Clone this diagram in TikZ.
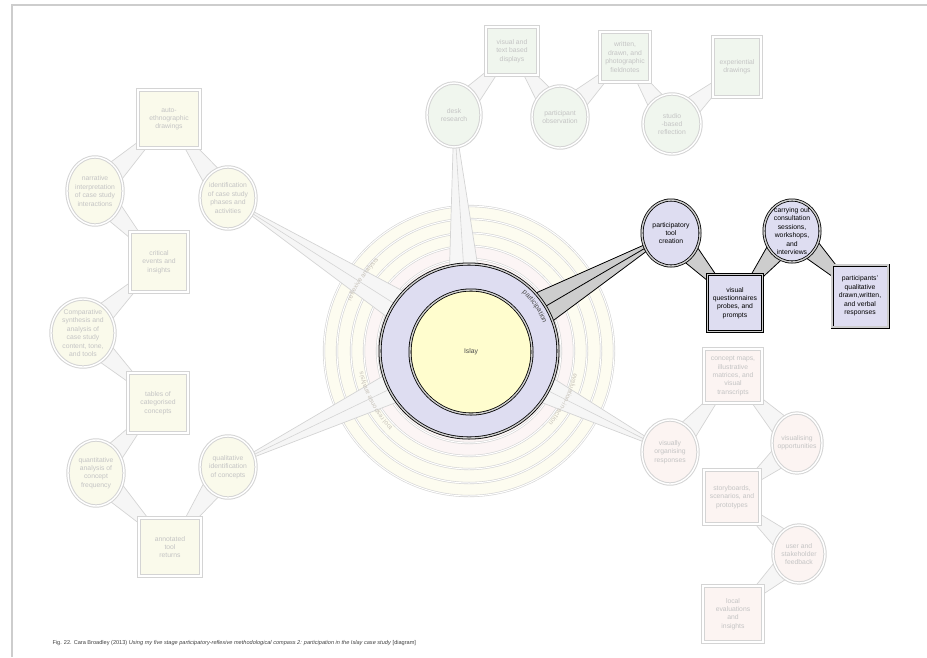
\documentclass[tikz,border=0pt]{standalone}
\usepackage{fontspec}
\setmainfont{Liberation Sans}
\usetikzlibrary{shapes.geometric,calc,decorations.text}
\definecolor{RingLilac}{RGB}{222,221,241}
\definecolor{IslayYellow}{RGB}{255,253,206}
\definecolor{LinkGray}{RGB}{205,205,205}
\definecolor{FaintLine}{RGB}{212,212,212}
\definecolor{FaintText}{RGB}{196,196,196}
\definecolor{FaintLink}{RGB}{246,246,246}
\definecolor{TopGreen}{RGB}{240,246,238}
\definecolor{LeftCream}{RGB}{250,250,235}
\definecolor{LowPink}{RGB}{252,244,242}
\definecolor{RingCream}{RGB}{253,252,240}
\definecolor{RingPink}{RGB}{252,245,245}
\definecolor{RingText}{RGB}{200,195,186}
\definecolor{FrameGray}{RGB}{205,205,205}
\newcommand{\nodefont}{\fontsize{6.8}{8.4}\selectfont}
\pgfdeclarelayer{rings}
\pgfdeclarelayer{links}
\pgfsetlayers{rings,links,main}

\begin{document}
\begin{tikzpicture}[x=1pt,y=-1pt,
    fshape/.style={draw=FaintLine,line width=1pt,double=white,double distance=1.4pt},
    fbox/.style 2 args={fshape,rectangle,minimum width=#1,minimum height=#2,inner sep=0pt,
      font=\nodefont,text=FaintText,align=center},
    fblob/.style n args={3}{fshape,ellipse,minimum width=#1,minimum height=#2,
      label={[font=\nodefont,text=FaintText,align=center]center:{#3}}},
    hshape/.style={draw=black,line width=0.8pt,double=LinkGray,double distance=1.4pt,fill=RingLilac},
    hbox/.style 2 args={hshape,rectangle,minimum width=#1,minimum height=#2,inner sep=0pt,
      font=\nodefont,align=center},
    hblob/.style n args={3}{hshape,ellipse,minimum width=#1,minimum height=#2,
      label={[font=\nodefont,align=center]center:{#3}}},
    fwedge/.style={draw=FaintLine,fill=FaintLink,line width=0.7pt,line join=round},
    hwedge/.style={draw=black,fill=LinkGray,line width=0.8pt,line join=round},
    ringring/.style={draw=FaintLine,line width=0.6pt,double=white,double distance=1pt},
    ringlabel/.style={decorate,decoration={text along path,text align=center,
      text={|\fontsize{6.5}{7}\selectfont\color{RingText}|#1}}}]
  \useasboundingbox (0,0) rectangle (927,657);
  \draw[FrameGray,line width=2.5pt] (12,657) -- (12,5) -- (927,5);

  \node[hshape,ellipse,minimum width=178pt,minimum height=174pt] (hub) at (469,351) {};
  \node[hshape,ellipse,fill=IslayYellow,minimum width=122pt,minimum height=124pt,
    font=\nodefont,text=black!70] (islay) at (471,352) {Islay};

  \node[fblob={54pt}{64pt}{desk\\research},fill=TopGreen] (desk) at (454,115) {};
  \node[fbox={52pt}{48pt},fill=TopGreen] (vtd) at (512,51) {visual and\\text based\\displays};
  \node[fblob={56pt}{62pt}{participant\\observation},fill=TopGreen] (pobs) at (560,117) {};
  \node[fbox={50pt}{50pt},fill=TopGreen] (wdp) at (625,57) {written,\\drawn, and\\photographic\\fieldnotes};
  \node[fblob={58pt}{60pt}{studio\\-based\\reflection},fill=TopGreen] (sbr) at (672,124) {};
  \node[fbox={48pt}{60pt},fill=TopGreen] (expd) at (737,67) {experiential\\drawings};

  \node[fbox={62pt}{58pt},fill=LeftCream] (aed) at (169,119) {auto-\\ethnographic\\drawings};
  \node[fblob={56pt}{62pt}{identification\\of case study\\phases and\\activities},fill=LeftCream] (idcs) at (228,198) {};
  \node[fblob={56pt}{68pt}{narrative\\interpretation\\of case study\\interactions},fill=LeftCream] (nics) at (95,191) {};
  \node[fbox={58pt}{60pt},fill=LeftCream] (crit) at (159,262) {critical\\events and\\insights};
  \node[fblob={64pt}{68pt}{Comparative\\synthesis and\\analysis of\\case study\\content, tone,\\and tools},fill=LeftCream] (comp) at (83,333) {};
  \node[fbox={60pt}{60pt},fill=LeftCream] (tcc) at (158,403) {tables of\\categorised\\concepts};
  \node[fblob={56pt}{66pt}{quantitative\\analysis of\\concept\\frequency},fill=LeftCream] (qacf) at (96,473) {};
  \node[fbox={62pt}{58pt},fill=LeftCream] (atr) at (170,547) {annotated\\tool\\returns};
  \node[fblob={56pt}{62pt}{qualitative\\identification\\of concepts},fill=LeftCream] (qic) at (228,467) {};

  \node[fblob={56pt}{64pt}{visually\\organising\\responses},fill=LowPink] (vor) at (670,452) {};
  \node[fbox={58pt}{54pt},fill=LowPink] (cmap) at (733,376) {concept maps,\\illustrative\\matrices, and\\visual\\transcripts};
  \node[fblob={50pt}{60pt}{visualising\\opportunities},fill=LowPink] (vop) at (797,443) {};
  \node[fbox={56pt}{54pt},fill=LowPink] (sbd) at (732,497) {storyboards,\\scenarios, and\\prototypes};
  \node[fblob={52pt}{58pt}{user and\\stakeholder\\feedback},fill=LowPink] (usf) at (799,554) {};
  \node[fbox={60pt}{56pt},fill=LowPink] (lei) at (733,614) {local\\evaluations\\and\\insights};

  \node[hblob={58pt}{66pt}{participatory\\tool\\creation}] (ptc) at (671,233) {};
  \node[hbox={55pt}{57pt}] (vqp) at (735,303) {visual\\questionnaires\\probes, and\\prompts};
  \node[hblob={56pt}{62pt}{carrying out\\consultation\\sessions,\\workshops,\\and\\interviews}] (cocs) at (792,231) {};
  \node[hbox={56pt}{62pt}] (pqr) at (860,296) {participants'\\qualitative\\drawn,written,\\and verbal\\responses};

  \begin{pgfonlayer}{rings}
    \fill[RingCream] (hub.center) circle (145);
    \fill[RingPink] (hub.center) circle (105);
    \foreach \r in {92,105,118,132,145}
      \draw[ringring] (hub.center) circle (\r);
  \end{pgfonlayer}

  \begin{pgfonlayer}{links}
    \foreach \b in {desk,idcs,qic,vor} {
      \draw[fwedge] ($(hub)!22pt!90:(\b)$) -- (\b.center) -- ($(hub)!22pt!-90:(\b)$) -- cycle;
      \draw[FaintLine,line width=0.6pt] (hub.center) -- (\b.center);
    }
    \foreach \a/\b in {desk/vtd,pobs/vtd,pobs/wdp,sbr/wdp,sbr/expd,idcs/aed,nics/aed,nics/crit,
        comp/crit,comp/tcc,qacf/tcc,qacf/atr,qic/atr,vor/cmap,vop/cmap,vop/sbd,usf/sbd,usf/lei}
      \draw[fwedge] ($(\a)!14pt!90:(\b)$) -- (\b.center) -- ($(\a)!14pt!-90:(\b)$) -- cycle;
    \draw[hwedge] ($(hub)!26pt!90:(ptc)$) -- (ptc.center) -- ($(hub)!26pt!-90:(ptc)$) -- cycle;
    \draw[black,line width=0.8pt] (hub.center) -- (ptc.center);
    \foreach \a/\b in {ptc/vqp,cocs/vqp,cocs/pqr}
      \draw[hwedge] ($(\a)!14pt!90:(\b)$) -- (\b.center) -- ($(\a)!14pt!-90:(\b)$) -- cycle;
  \end{pgfonlayer}

  \path[ringlabel={reflexive analysis}]
    ($(hub.center)+(196:128)$) arc[start angle=196,end angle=232,radius=128];
  \path[ringlabel={tool response analysis}]
    ($(hub.center)+(126:108)$) arc[start angle=126,end angle=178,radius=108];
  \path[ringlabel={evaluation-in-action}]
    ($(hub.center)+(2:107)$) arc[start angle=2,end angle=52,radius=107];
  \path[decorate,decoration={text along path,text align=center,
      text={|\fontsize{7}{8}\selectfont\color{black!70}|participation}}]
    ($(hub.center)+(304:79)$) arc[start angle=304,end angle=348,radius=79];

  \node[anchor=west,font=\fontsize{5.6}{7}\selectfont,text=black!75] (cap) at (49,643)
    {Fig. 22. Cara Broadley (2013) \textit{Using my five stage participatory-reflexive methodological compass 2: participation in the Islay case study} [diagram]};
\end{tikzpicture}
\end{document}
